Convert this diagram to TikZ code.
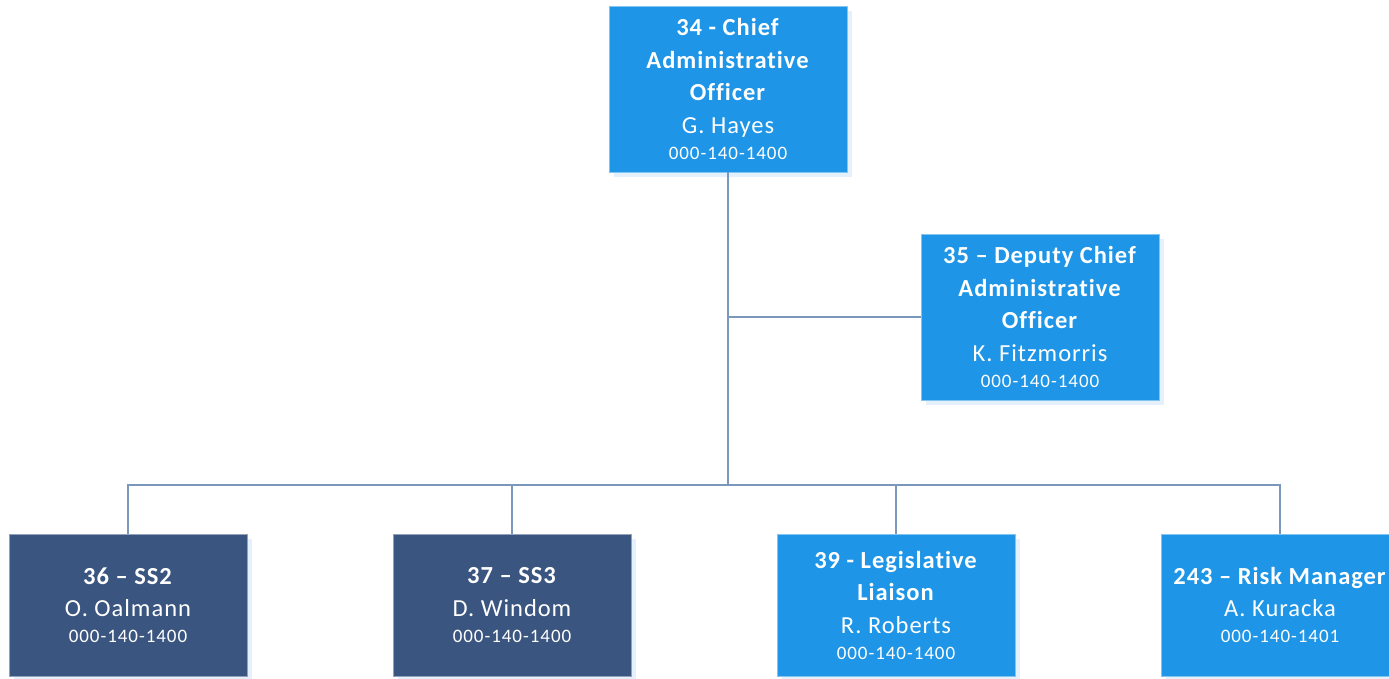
\documentclass[tikz,border=0pt]{standalone}
\usepackage{fontspec}
\setmainfont{Carlito}[LetterSpace=4, Ligatures=NoCommon, RawFeature=-liga]
\definecolor{boxblue}{HTML}{1E95E6}
\definecolor{boxnavy}{HTML}{3A5580}
\definecolor{linkgrey}{HTML}{7A97BC}
\definecolor{shadowblue}{HTML}{E4F1FC}
\newcommand{\phonefont}{\fontsize{19}{23}\selectfont\addfontfeatures{LetterSpace=5}}
\begin{document}
\begin{tikzpicture}[x=1pt,y=-1pt,
  card/.style={rectangle, minimum width=238pt, inner sep=0pt,
    fill=#1, draw=#1!55!white, line width=0.6pt,
    preaction={fill=shadowblue, transform canvas={shift={(5pt,-5pt)}}}},
  tallcard/.style={card=boxblue, minimum height=166pt},
  lowcard/.style={card=#1, minimum height=142pt},
  cardtext/.style={align=center, text=white, inner sep=0pt,
    font=\fontsize{24.5}{32.5}\selectfont},
  link/.style={draw=linkgrey, line width=1.8pt}
]
\useasboundingbox (0,0) rectangle (1389,678);
\clip (0,0) rectangle (1389,678);

% boxes
\node[tallcard] (cao) at (728,89) {};
\node[tallcard] (dep) at (1040,317) {};
\node[lowcard=boxnavy] (ss2) at (128,605) {};
\node[lowcard=boxnavy] (ss3) at (512,605) {};
\node[lowcard=boxblue] (leg) at (896,605) {};
\node[lowcard=boxblue] (risk) at (1280,605) {};

% texts
\node[cardtext] (cao-t) at (cao.center)
  {\textbf{34 - Chief}\\\textbf{Administrative}\\\textbf{Officer}\\G. Hayes\\[-6.5pt]{\phonefont 000-140-1400}};
\node[cardtext] (dep-t) at (dep.center)
  {\textbf{35 – Deputy Chief}\\\textbf{Administrative}\\\textbf{Officer}\\K. Fitzmorris\\[-6.5pt]{\phonefont 000-140-1400}};
\node[cardtext] (ss2-t) at (ss2.center)
  {\textbf{36 – SS2}\\O. Oalmann\\[-6.5pt]{\phonefont 000-140-1400}};
\node[cardtext] (ss3-t) at (ss3.center)
  {\textbf{37 – SS3}\\D. Windom\\[-6.5pt]{\phonefont 000-140-1400}};
\node[cardtext] (leg-t) at (leg.center)
  {\textbf{39 - Legislative}\\\textbf{Liaison}\\R. Roberts\\[-6.5pt]{\phonefont 000-140-1400}};
\node[cardtext] (risk-t) at (risk.center)
  {\textbf{243 – Risk Manager}\\A. Kuracka\\[-6.5pt]{\phonefont 000-140-1401}};

% connectors
\coordinate (bus) at (cao.south |- 0,485);
\coordinate (depj) at (cao.south |- dep.west);
\draw[link] (cao.south) -- (bus);
\draw[link] (depj) -- (dep.west);
\draw[link] (ss2.north) |- (bus) -| (risk.north);
\draw[link] (ss3.north) -- (ss3.north |- bus);
\draw[link] (leg.north) -- (leg.north |- bus);
\end{tikzpicture}
\end{document}
